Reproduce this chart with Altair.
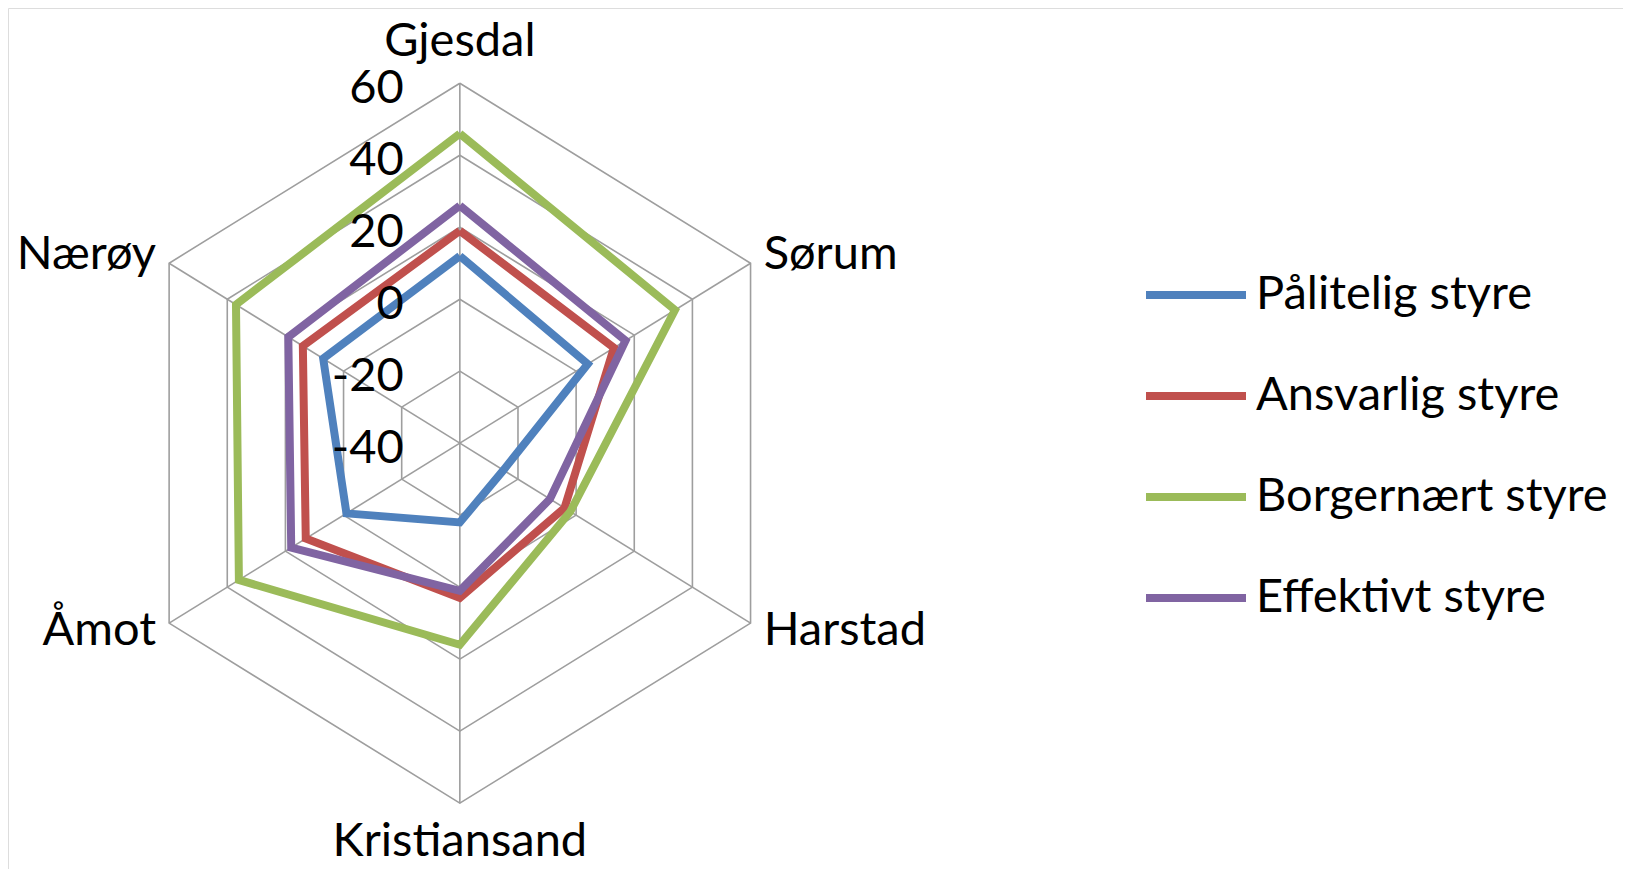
import altair as alt
import pandas as pd

categories = ["Gjesdal", "Sørum", "Harstad", "Kristiansand", "Åmot", "Nærøy"]
label_side = ["top", "left", "left", "bottom", "right", "right"]
series = ["Pålitelig styre", "Ansvarlig styre", "Borgernært styre", "Effektivt styre"]
palitelig = [12, 4, -25, -18, -1, 7]
ansvarlig = [19, 13, -4, 3, 13, 14]
borgernaert = [46, 34, -2, 16, 36, 37]
effektivt = [26, 17, -9, 1, 18, 19]
tick_values = [-40, -20, 0, 20, 40, 60]
ring_values = [-20, 0, 20, 40, 60]
colors = ["#4F81BD", "#C0504D", "#9BBB59", "#8064A2"]
AXIS_MIN = -40
FONT = "Lato"
FS = 47

values_by_series = [palitelig, ansvarlig, borgernaert, effektivt]
n = len(categories)

series_rows = []
for s, vals in zip(series, values_by_series):
    for k in range(n + 1):
        series_rows.append({"series": s, "k": k, "category": categories[k % n], "value": vals[k % n]})
series_df = pd.DataFrame(series_rows)

ring_rows = []
for v in ring_values:
    for k in range(n + 1):
        ring_rows.append({"ring": v, "k": k, "value": v})
ring_df = pd.DataFrame(ring_rows)

spoke_df = pd.DataFrame({"k": list(range(n)), "category": categories})
label_df = pd.DataFrame({"k": list(range(n)), "category": categories, "side": label_side})
tick_df = pd.DataFrame({"value": tick_values})

xs = alt.Scale(domain=[-134.6, 346.5], nice=False, zero=False)
ys = alt.Scale(domain=[-118.3, 120.9], nice=False, zero=False)


def polar(ch):
    return ch.transform_calculate(
        theta="datum.k * PI / 3",
        r=f"datum.value - ({AXIS_MIN})",
    ).transform_calculate(
        px="datum.r * sin(datum.theta)",
        py="datum.r * cos(datum.theta)",
    )


X = alt.X("px:Q", scale=xs, axis=None)
Y = alt.Y("py:Q", scale=ys, axis=None)
GRID = "#9E9E9E"

rings = polar(alt.Chart(ring_df)).mark_line(color=GRID, strokeWidth=1.6).encode(
    x=X, y=Y, detail="ring:N", order="k:Q"
)

spokes = alt.Chart(spoke_df).transform_calculate(
    theta="datum.k * PI / 3",
    px0="0",
    py0="0",
).transform_calculate(
    px1=f"{60 - AXIS_MIN} * sin(datum.theta)",
    py1=f"{60 - AXIS_MIN} * cos(datum.theta)",
).mark_rule(color=GRID, strokeWidth=1.6).encode(
    x=alt.X("px0:Q", scale=xs, axis=None),
    y=alt.Y("py0:Q", scale=ys, axis=None),
    x2="px1:Q",
    y2="py1:Q",
)

color = alt.Color(
    "series:N",
    scale=alt.Scale(domain=series, range=colors),
    legend=alt.Legend(
        title=None,
        orient="none",
        legendX=1134,
        legendY=233,
        symbolType="stroke",
        symbolSize=10000,
        symbolStrokeWidth=8,
        labelFontSize=FS,
        labelFont=FONT,
        labelColor="#000000",
        rowPadding=24,
        labelOffset=6,
        labelLimit=0,
    ),
)

lines = []
for s in series:
    lines.append(
        polar(alt.Chart(series_df))
        .transform_filter(alt.datum.series == s)
        .mark_line(strokeWidth=8)
        .encode(x=X, y=Y, color=color, order="k:Q")
    )

label_base = alt.Chart(label_df).transform_calculate(
    theta="datum.k * PI / 3",
    r="datum.side == 'top' ? 111.4 : (datum.side == 'bottom' ? 110.8 : 104.5)",
).transform_calculate(
    px="datum.r * sin(datum.theta)",
    py="datum.r * cos(datum.theta)",
)
label_layers = []
for side, align in [("top", "center"), ("bottom", "center"), ("left", "left"), ("right", "right")]:
    label_layers.append(
        label_base.transform_filter(alt.datum.side == side)
        .mark_text(align=align, baseline="middle", font=FONT, fontSize=FS, color="#000000")
        .encode(x=X, y=Y, text="category:N")
    )

ticks = polar(alt.Chart(tick_df).transform_calculate(k="0", lbl="'' + datum.value")).mark_text(
    align="right", baseline="middle", font=FONT, fontSize=FS, color="#000000", dx=-56, dy=6
).encode(x=X, y=Y, text="lbl:N")

chart = alt.layer(rings, spokes, *lines, *label_layers, ticks).properties(
    width=1615, height=861, autosize=alt.AutoSizeParams(type="none"), padding=0
).configure_view(stroke="transparent", strokeWidth=0).configure(background="white")

chart.save("out.html", embed_options={"renderer": "svg", "actions": False})
